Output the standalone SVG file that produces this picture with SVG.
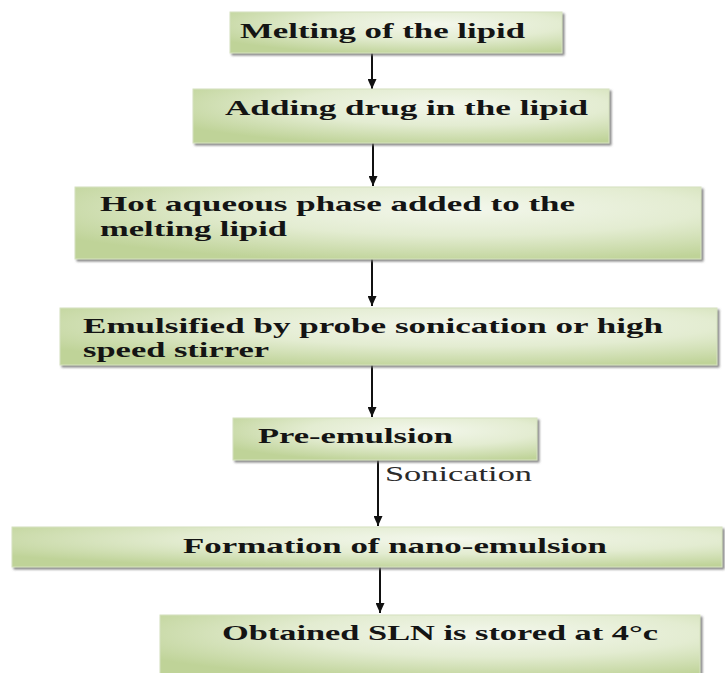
<svg xmlns="http://www.w3.org/2000/svg" width="725" height="673" viewBox="0 0 725 673">
  <defs>
    <radialGradient id="boxFill" cx="0.62" cy="0.3" r="0.75">
      <stop offset="0" stop-color="#f3f7ec"/>
      <stop offset="0.5" stop-color="#e3ecd1"/>
      <stop offset="1" stop-color="#bfd398"/>
    </radialGradient>
    <filter id="boxShadow" x="-5%" y="-20%" width="110%" height="150%">
      <feDropShadow dx="2" dy="2" stdDeviation="0.8" flood-color="#6f6f6f" flood-opacity="0.85"/>
    </filter>
    <marker id="arrowHead" markerUnits="userSpaceOnUse" markerWidth="11" markerHeight="9" refX="10" refY="4.5" orient="auto">
      <path d="M0,0 L10,4.5 L0,9 z" fill="#111"/>
    </marker>
  </defs>
  <style>
    .box { fill: url(#boxFill); stroke: #d6e2c0; stroke-width: 1; filter: url(#boxShadow); }
    .label { font-family: "Liberation Serif", "Times New Roman", serif; font-weight: bold; font-size: 21px; fill: #141414; }
    .note { font-family: "Liberation Serif", "Times New Roman", serif; font-size: 21px; fill: #2a2a2a; }
    .link { stroke: #111; stroke-width: 2; fill: none; marker-end: url(#arrowHead); }
  </style>

  <rect width="725" height="673" fill="#ffffff"/>

  <g id="connectors">
    <line class="link" x1="372" y1="53" x2="372" y2="89"/>
    <line class="link" x1="373" y1="143" x2="373" y2="186"/>
    <line class="link" x1="372" y1="259" x2="372" y2="306"/>
    <line class="link" x1="372" y1="365" x2="372" y2="417"/>
    <line class="link" x1="378" y1="460" x2="378" y2="526"/>
    <text class="note" x="385" y="481" textLength="147" lengthAdjust="spacingAndGlyphs">Sonication</text>
    <line class="link" x1="380" y1="567" x2="380" y2="613"/>
  </g>

  <g id="melting">
    <rect class="box" x="230" y="12" width="332" height="41"/>
    <text class="label" x="240" y="38" textLength="285" lengthAdjust="spacingAndGlyphs">Melting of the lipid</text>
  </g>

  <g id="adding-drug">
    <rect class="box" x="193" y="89" width="416" height="54"/>
    <text class="label" x="225" y="115" textLength="363" lengthAdjust="spacingAndGlyphs">Adding drug in the lipid</text>
  </g>

  <g id="hot-aqueous">
    <rect class="box" x="75" y="187" width="626" height="72"/>
    <text class="label" x="100" y="211" textLength="475" lengthAdjust="spacingAndGlyphs">Hot aqueous phase added to the</text>
    <text class="label" x="100" y="236" textLength="187" lengthAdjust="spacingAndGlyphs">melting lipid</text>
  </g>

  <g id="emulsified">
    <rect class="box" x="60" y="308" width="657" height="57"/>
    <text class="label" x="83" y="333" textLength="580" lengthAdjust="spacingAndGlyphs">Emulsified by probe sonication or high</text>
    <text class="label" x="83" y="357" textLength="186" lengthAdjust="spacingAndGlyphs">speed stirrer</text>
  </g>

  <g id="pre-emulsion">
    <rect class="box" x="233" y="418" width="304" height="42"/>
    <text class="label" x="258" y="443" textLength="195" lengthAdjust="spacingAndGlyphs">Pre-emulsion</text>
  </g>

  <g id="nano-emulsion">
    <rect class="box" x="12" y="527" width="710" height="40"/>
    <text class="label" x="183" y="553" textLength="424" lengthAdjust="spacingAndGlyphs">Formation of nano-emulsion</text>
  </g>

  <g id="stored">
    <rect class="box" x="160" y="615" width="540" height="62"/>
    <text class="label" x="222" y="640" textLength="436" lengthAdjust="spacingAndGlyphs">Obtained SLN is stored at 4°c</text>
  </g>
</svg>
